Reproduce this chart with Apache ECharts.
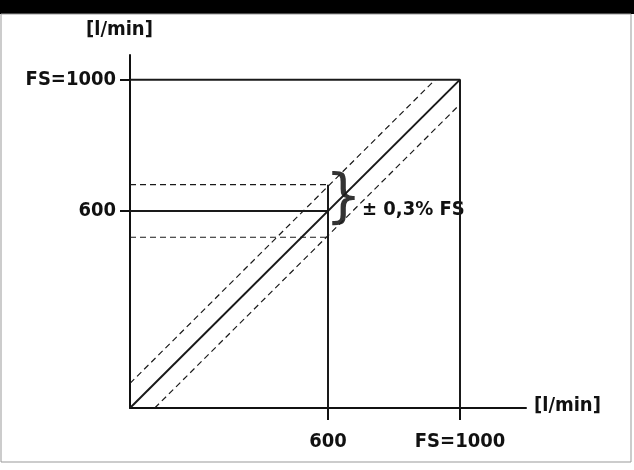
<!DOCTYPE html>
<html>
<head>
<meta charset="utf-8">
<script src="https://cdn.jsdelivr.net/npm/echarts@6/dist/echarts.min.js"></script>
<style>html,body{margin:0;padding:0;background:#fff}#chart{width:634px;height:470px}</style>
</head>
<body>
<div id="chart"></div>
<script>
// values in l/min, FS = 1000
var tickValues = [600, 1000];
var tickLabels = ['600', 'FS=1000'];
var idealLine = [[0, 0], [1000, 1000]];
var upperTol = [[0, 75], [925, 1000]];
var lowerTol = [[75, 0], [1000, 925]];
var bandTop = [[0, 680], [600, 680]];
var bandBottom = [[0, 520], [600, 520]];
var readLine = [[0, 600], [600, 600]];
var readVertical = [[600, 0], [600, 680]];
var fsBox = [[0, 1000], [1000, 1000], [1000, 0]];

var myChart = echarts.init(document.getElementById('chart'));
var font = 'DejaVu Sans Condensed';

function lineSeries(data, dashed) {
    return {
        type: 'line', data: data, symbol: 'none', silent: true,
        lineStyle: { color: '#1a1a1a', width: dashed ? 1.2 : 2, type: dashed ? [6, 4] : 'solid' }
    };
}

var fmt = function (v) { return tickLabels[tickValues.indexOf(v)] || ''; };

var option = {
    animation: false,
    grid: { left: 130, right: 108, top: 55, bottom: 62 },
    xAxis: {
        type: 'value', min: 0, max: 1200,
        splitLine: { show: false },
        axisLine: { lineStyle: { color: '#111', width: 2 } },
        axisTick: { customValues: tickValues, length: 12, lineStyle: { color: '#111', width: 2 } },
        axisLabel: { customValues: tickValues, formatter: fmt, margin: 24, color: '#111', fontFamily: font, fontWeight: 'bold', fontSize: 20 }
    },
    yAxis: {
        type: 'value', min: 0, max: 1075,
        splitLine: { show: false },
        axisLine: { lineStyle: { color: '#111', width: 2 } },
        axisTick: { customValues: tickValues, length: 10, lineStyle: { color: '#111', width: 2 } },
        axisLabel: { customValues: tickValues, formatter: fmt, margin: 14, color: '#111', fontFamily: font, fontWeight: 'bold', fontSize: 20 }
    },
    series: [
        lineSeries(idealLine, false),
        lineSeries(upperTol, true),
        lineSeries(lowerTol, true),
        lineSeries(bandTop, true),
        lineSeries(bandBottom, true),
        lineSeries(readLine, false),
        lineSeries(readVertical, false),
        lineSeries(fsBox, false)
    ],
    graphic: [
        { type: 'rect', shape: { x: 0, y: 0, width: 634, height: 14 }, style: { fill: '#000' } },
        { type: 'rect', shape: { x: 1, y: 14, width: 630, height: 448 }, style: { fill: 'none', stroke: '#999', lineWidth: 1 } },
        { type: 'text', left: 86, top: 20, style: { text: '[l/min]', font: 'bold 20px ' + font, fill: '#111' } },
        { type: 'text', left: 534, top: 396, style: { text: '[l/min]', font: 'bold 20px ' + font, fill: '#111' } },
        { type: 'text', left: 325, top: 172, style: { text: '}', font: '58px DejaVu Sans', fill: '#333' } },
        { type: 'text', left: 362, top: 200, style: { text: '± 0,3% FS', font: 'bold 20px ' + font, fill: '#111' } }
    ]
};
myChart.setOption(option, true);
</script>
</body>
</html>
